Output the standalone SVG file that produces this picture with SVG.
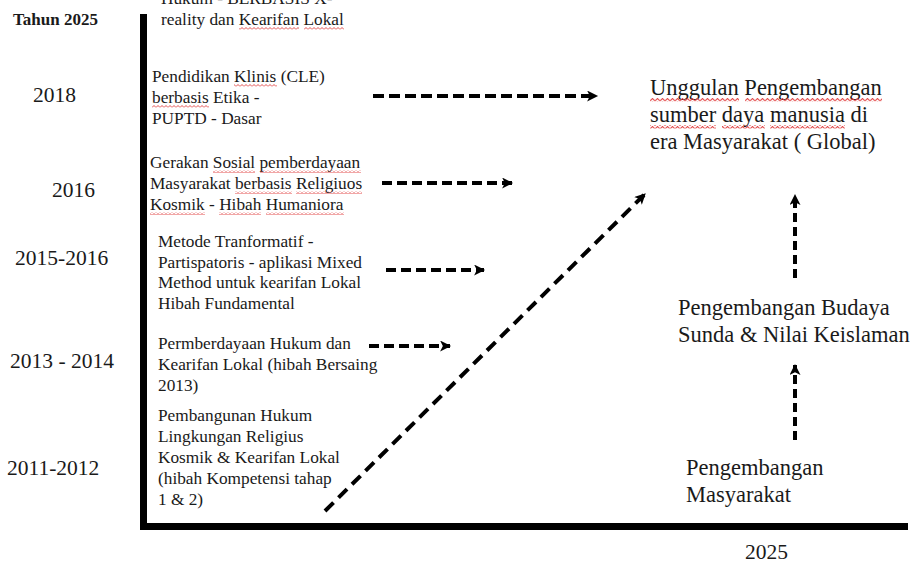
<svg xmlns="http://www.w3.org/2000/svg" width="912" height="565" viewBox="0 0 912 565">
  <style>
    .t { font-family: "Liberation Serif", "Times New Roman", serif; fill: #1a1a1a; }
    .blk { font-size: 17.3px; }
    .yr { font-size: 21.5px; }
    .big { font-size: 22.5px; }
    .bold { font-weight: bold; font-size: 17px; }
    .sq { fill: url(#wavy); }
    .sqb { fill: url(#wavyB); }
    .axis { fill: #000; }
    .dash { fill: none; stroke: #000; stroke-width: 4; }
  </style>
  <defs>
    <!-- red squiggle used as a spelling underline -->
    <pattern id="wavy" x="0" y="0" width="4" height="3" patternUnits="userSpaceOnUse">
      <path d="M0,2.5 L2,0.5 L4,2.5" fill="none" stroke="#e03a3a" stroke-width="0.9"/>
    </pattern>
    <pattern id="wavyB" x="0" y="0" width="5" height="3.5" patternUnits="userSpaceOnUse">
      <path d="M0,3 L2.5,0.5 L5,3" fill="none" stroke="#e03a3a" stroke-width="1"/>
    </pattern>
    <marker id="head" viewBox="0 0 10 10" refX="9" refY="5" markerWidth="12" markerHeight="11" markerUnits="userSpaceOnUse" orient="auto">
      <path d="M0,0 L10,5 L0,10 L2.5,5 Z" fill="#000"/>
    </marker>
  </defs>

  <rect width="912" height="565" fill="#fff"/>

  <!-- axes -->
  <g id="axes">
    <rect class="axis" x="140" y="14" width="7" height="515"/>
    <rect class="axis" x="140" y="523" width="768" height="7"/>
  </g>

  <!-- year labels -->
  <g id="years" class="t">
    <text class="bold" x="13" y="25">Tahun 2025</text>
    <text class="yr" x="33" y="102">2018</text>
    <text class="yr" x="52" y="197">2016</text>
    <text class="yr" x="15" y="265">2015-2016</text>
    <text class="yr" x="10" y="368">2013 - 2014</text>
    <text class="yr" x="7" y="475">2011-2012</text>
    <text class="yr" x="745" y="559">2025</text>
  </g>

  <!-- research stages -->
  <g id="n2025" class="t blk">
    <text x="161" y="4">Hukum - BERBASIS X-</text>
    <text x="161" y="25">reality dan Kearifan Lokal</text>
    <rect class="sq" x="239" y="27" width="60" height="3"/>
    <rect class="sq" x="304" y="27" width="40" height="3"/>
  </g>
  <g id="n2018" class="t blk">
    <text x="152" y="82">Pendidikan Klinis (CLE)</text>
    <text x="152" y="103">berbasis Etika -</text>
    <text x="152" y="124">PUPTD - Dasar</text>
    <rect class="sq" x="234" y="84" width="43" height="3"/>
    <rect class="sq" x="152" y="105" width="57" height="3"/>
  </g>
  <g id="n2016" class="t blk">
    <text x="150" y="168">Gerakan Sosial pemberdayaan</text>
    <text x="150" y="189">Masyarakat berbasis Religiuos</text>
    <text x="150" y="210">Kosmik - Hibah Humaniora</text>
    <rect class="sq" x="213" y="170" width="42" height="3"/>
    <rect class="sq" x="260" y="170" width="101" height="3"/>
    <rect class="sq" x="235" y="191" width="57" height="3"/>
    <rect class="sq" x="296" y="191" width="66" height="3"/>
    <rect class="sq" x="150" y="212" width="55" height="3"/>
    <rect class="sq" x="219" y="212" width="42" height="3"/>
    <rect class="sq" x="266" y="212" width="78" height="3"/>
  </g>
  <g id="n2015" class="t blk">
    <text x="158" y="247">Metode Tranformatif -</text>
    <text x="158" y="268">Partispatoris - aplikasi Mixed</text>
    <text x="158" y="288">Method untuk kearifan Lokal</text>
    <text x="158" y="309">Hibah Fundamental</text>
  </g>
  <g id="n2013" class="t blk">
    <text x="158" y="349">Permberdayaan Hukum dan</text>
    <text x="158" y="370">Kearifan Lokal (hibah Bersaing</text>
    <text x="158" y="391">2013)</text>
  </g>
  <g id="n2011" class="t blk">
    <text x="158" y="421">Pembangunan Hukum</text>
    <text x="158" y="442">Lingkungan Religius</text>
    <text x="158" y="463">Kosmik &amp; Kearifan Lokal</text>
    <text x="158" y="484">(hibah Kompetensi tahap</text>
    <text x="158" y="505">1 &amp; 2)</text>
  </g>

  <!-- outcomes -->
  <g id="global" class="t big">
    <text x="650" y="95">Unggulan Pengembangan</text>
    <text x="650" y="122">sumber daya manusia di</text>
    <text x="650" y="149">era Masyarakat ( Global)</text>
    <rect class="sqb" x="650" y="98" width="89" height="3.5"/>
    <rect class="sqb" x="745" y="98" width="137" height="3.5"/>
    <rect class="sqb" x="650" y="125" width="66" height="3.5"/>
    <rect class="sqb" x="722" y="125" width="43" height="3.5"/>
    <rect class="sqb" x="770" y="125" width="75" height="3.5"/>
  </g>
  <g id="budaya" class="t big">
    <text x="678" y="315">Pengembangan Budaya</text>
    <text x="678" y="342">Sunda &amp; Nilai Keislaman</text>
  </g>
  <g id="masyarakat" class="t big">
    <text x="686" y="475">Pengembangan</text>
    <text x="686" y="502">Masyarakat</text>
  </g>

  <!-- connectors -->
  <g id="connectors">
    <path class="dash" d="M373,96 H597" stroke-dasharray="11 5" marker-end="url(#head)"/>
    <path class="dash" d="M382,183 H512" stroke-dasharray="10 5" marker-end="url(#head)"/>
    <path class="dash" d="M386,270 H484" stroke-dasharray="10 5" marker-end="url(#head)"/>
    <path class="dash" d="M369,346 H450" stroke-dasharray="10 5" marker-end="url(#head)"/>
    <path class="dash" d="M325,511 L645,194" stroke-width="5" stroke-dasharray="12 7" marker-end="url(#head)"/>
    <path class="dash" d="M795,278 V195" stroke-dasharray="9 5" marker-end="url(#head)"/>
    <path class="dash" d="M795,440 V365" stroke-dasharray="9 5" marker-end="url(#head)"/>
  </g>
</svg>
